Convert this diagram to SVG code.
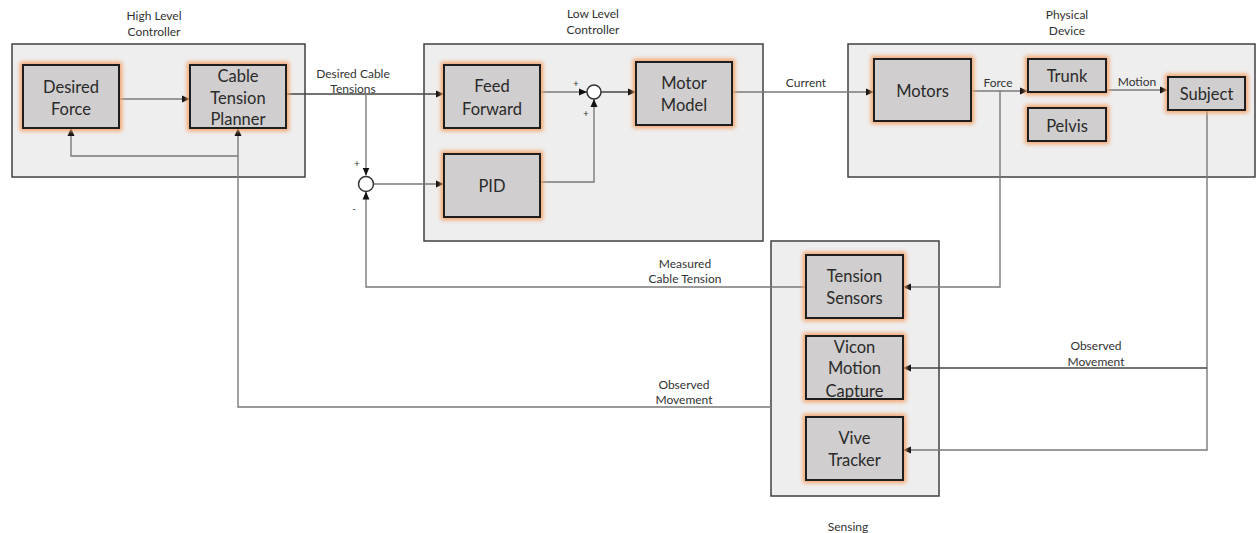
<svg xmlns="http://www.w3.org/2000/svg" width="1256" height="533" viewBox="0 0 1256 533">
  <defs>
    <marker id="arrow" viewBox="0 0 8 8" refX="8" refY="4" markerWidth="8" markerHeight="8" markerUnits="userSpaceOnUse" orient="auto">
      <path d="M0,0.5 L8,4 L0,7.5 Z" fill="#111"/>
    </marker>
    <filter id="glow" x="-20%" y="-30%" width="140%" height="160%">
      <feGaussianBlur stdDeviation="2"/>
    </filter>
    <style>
      .group { fill: #eeeeee; stroke: #404040; stroke-width: 1.5; }
      .halo { fill: none; stroke: #f4a26a; stroke-width: 6; filter: url(#glow); }
      .box { fill: #d0cece; stroke: #1e1e1e; stroke-width: 2; }
      .node-text { font-family: Lato, "Liberation Sans", sans-serif; font-size: 16.5px; fill: #2a2a2a; text-anchor: middle; }
      .label { font-family: Lato, "Liberation Sans", sans-serif; font-size: 12px; fill: #333333; text-anchor: middle; }
      .sign { font-family: Lato, "Liberation Sans", sans-serif; font-size: 10px; fill: #333333; text-anchor: middle; }
      .wire { fill: none; stroke: #7a7a7a; stroke-width: 1.4; }
      .wire-dark { fill: none; stroke: #444444; stroke-width: 1.3; }
      .sum { fill: #ffffff; stroke: #333333; stroke-width: 1.5; }
    </style>
  </defs>

  <rect width="1256" height="533" fill="#ffffff"/>

  <!-- Subsystem frames -->
  <g id="high-level-controller">
    <rect class="group" x="12" y="44" width="293" height="133"/>
    <text class="label" x="154" y="20">High Level</text>
    <text class="label" x="154" y="36">Controller</text>
  </g>
  <g id="low-level-controller">
    <rect class="group" x="424" y="44" width="339" height="197"/>
    <text class="label" x="593" y="18">Low Level</text>
    <text class="label" x="593" y="34">Controller</text>
  </g>
  <g id="physical-device">
    <rect class="group" x="848" y="44" width="407" height="133"/>
    <text class="label" x="1067" y="19">Physical</text>
    <text class="label" x="1067" y="35">Device</text>
  </g>
  <g id="sensing">
    <rect class="group" x="771" y="241" width="168" height="255"/>
    <text class="label" x="848" y="531">Sensing</text>
  </g>

  <!-- Connectors -->
  <g id="connectors">
    <path class="wire" d="M119,99 H190" marker-end="url(#arrow)"/>
    <path class="wire" d="M771,407 H238 V128" marker-end="url(#arrow)"/>
    <path class="wire" d="M238,156 H71 V128" marker-end="url(#arrow)"/>
    <path class="wire-dark" d="M286,94 H444" marker-end="url(#arrow)"/>
    <path class="wire" d="M366,94 V175.5" marker-end="url(#arrow)"/>
    <path class="wire" d="M373.5,184 H444" marker-end="url(#arrow)"/>
    <path class="wire" d="M806,287 H366 V191.5" marker-end="url(#arrow)"/>
    <path class="wire" d="M540,92 H587" marker-end="url(#arrow)"/>
    <path class="wire" d="M540,182 H594 V99" marker-end="url(#arrow)"/>
    <path class="wire-dark" d="M601,92 H636" marker-end="url(#arrow)"/>
    <path class="wire" d="M732,92 H874" marker-end="url(#arrow)"/>
    <path class="wire" d="M971,91 H1028" marker-end="url(#arrow)"/>
    <path class="wire" d="M1000,91 V287 H903" marker-end="url(#arrow)"/>
    <path class="wire" d="M1106,90 H1168" marker-end="url(#arrow)"/>
    <path class="wire" d="M1207,110 V450 H903" marker-end="url(#arrow)"/>
    <path class="wire-dark" d="M1207,368 H903" marker-end="url(#arrow)"/>

    <text class="label" x="353" y="78">Desired Cable</text>
    <text class="label" x="353" y="93">Tensions</text>
    <text class="label" x="806" y="87">Current</text>
    <text class="label" x="998" y="87">Force</text>
    <text class="label" x="1137" y="86">Motion</text>
    <text class="label" x="685" y="268">Measured</text>
    <text class="label" x="685" y="283">Cable Tension</text>
    <text class="label" x="684" y="389">Observed</text>
    <text class="label" x="684" y="404">Movement</text>
    <text class="label" x="1096" y="350">Observed</text>
    <text class="label" x="1096" y="366">Movement</text>
  </g>

  <!-- Summing junctions -->
  <g id="sum-error">
    <circle class="sum" cx="366" cy="184" r="7.5"/>
    <text class="sign" x="357" y="167">+</text>
    <text class="sign" x="354" y="212">-</text>
  </g>
  <g id="sum-command">
    <circle class="sum" cx="594" cy="92" r="7"/>
    <text class="sign" x="576" y="87">+</text>
    <text class="sign" x="586" y="117">+</text>
  </g>

  <!-- Blocks -->
  <g id="desired-force">
    <rect class="halo" x="23" y="65" width="96" height="63"/>
    <rect class="box" x="23" y="65" width="96" height="63"/>
    <text class="node-text" x="71" y="93">Desired</text>
    <text class="node-text" x="71" y="115">Force</text>
  </g>
  <g id="cable-tension-planner">
    <rect class="halo" x="190" y="65" width="96" height="63"/>
    <rect class="box" x="190" y="65" width="96" height="63"/>
    <text class="node-text" x="238" y="82">Cable</text>
    <text class="node-text" x="238" y="104">Tension</text>
    <text class="node-text" x="238" y="125">Planner</text>
  </g>
  <g id="feed-forward">
    <rect class="halo" x="444" y="65" width="96" height="63"/>
    <rect class="box" x="444" y="65" width="96" height="63"/>
    <text class="node-text" x="492" y="92">Feed</text>
    <text class="node-text" x="492" y="115">Forward</text>
  </g>
  <g id="pid">
    <rect class="halo" x="444" y="154" width="96" height="63"/>
    <rect class="box" x="444" y="154" width="96" height="63"/>
    <text class="node-text" x="492" y="192">PID</text>
  </g>
  <g id="motor-model">
    <rect class="halo" x="636" y="62" width="96" height="63"/>
    <rect class="box" x="636" y="62" width="96" height="63"/>
    <text class="node-text" x="684" y="89">Motor</text>
    <text class="node-text" x="684" y="111">Model</text>
  </g>
  <g id="motors">
    <rect class="halo" x="874" y="59" width="97" height="62"/>
    <rect class="box" x="874" y="59" width="97" height="62"/>
    <text class="node-text" x="922.5" y="97">Motors</text>
  </g>
  <g id="trunk">
    <rect class="halo" x="1028" y="59" width="78" height="33"/>
    <rect class="box" x="1028" y="59" width="78" height="33"/>
    <text class="node-text" x="1067" y="82">Trunk</text>
  </g>
  <g id="pelvis">
    <rect class="halo" x="1028" y="108" width="78" height="33"/>
    <rect class="box" x="1028" y="108" width="78" height="33"/>
    <text class="node-text" x="1067" y="132">Pelvis</text>
  </g>
  <g id="subject">
    <rect class="halo" x="1168" y="77" width="77" height="33"/>
    <rect class="box" x="1168" y="77" width="77" height="33"/>
    <text class="node-text" x="1206.5" y="100">Subject</text>
  </g>
  <g id="tension-sensors">
    <rect class="halo" x="806" y="255" width="97" height="63"/>
    <rect class="box" x="806" y="255" width="97" height="63"/>
    <text class="node-text" x="854.5" y="282">Tension</text>
    <text class="node-text" x="854.5" y="304">Sensors</text>
  </g>
  <g id="vicon-motion-capture">
    <rect class="halo" x="806" y="336" width="97" height="63"/>
    <rect class="box" x="806" y="336" width="97" height="63"/>
    <text class="node-text" x="854.5" y="353">Vicon</text>
    <text class="node-text" x="854.5" y="374">Motion</text>
    <text class="node-text" x="854.5" y="397">Capture</text>
  </g>
  <g id="vive-tracker">
    <rect class="halo" x="806" y="417" width="97" height="63"/>
    <rect class="box" x="806" y="417" width="97" height="63"/>
    <text class="node-text" x="854.5" y="444">Vive</text>
    <text class="node-text" x="854.5" y="466">Tracker</text>
  </g>
</svg>
